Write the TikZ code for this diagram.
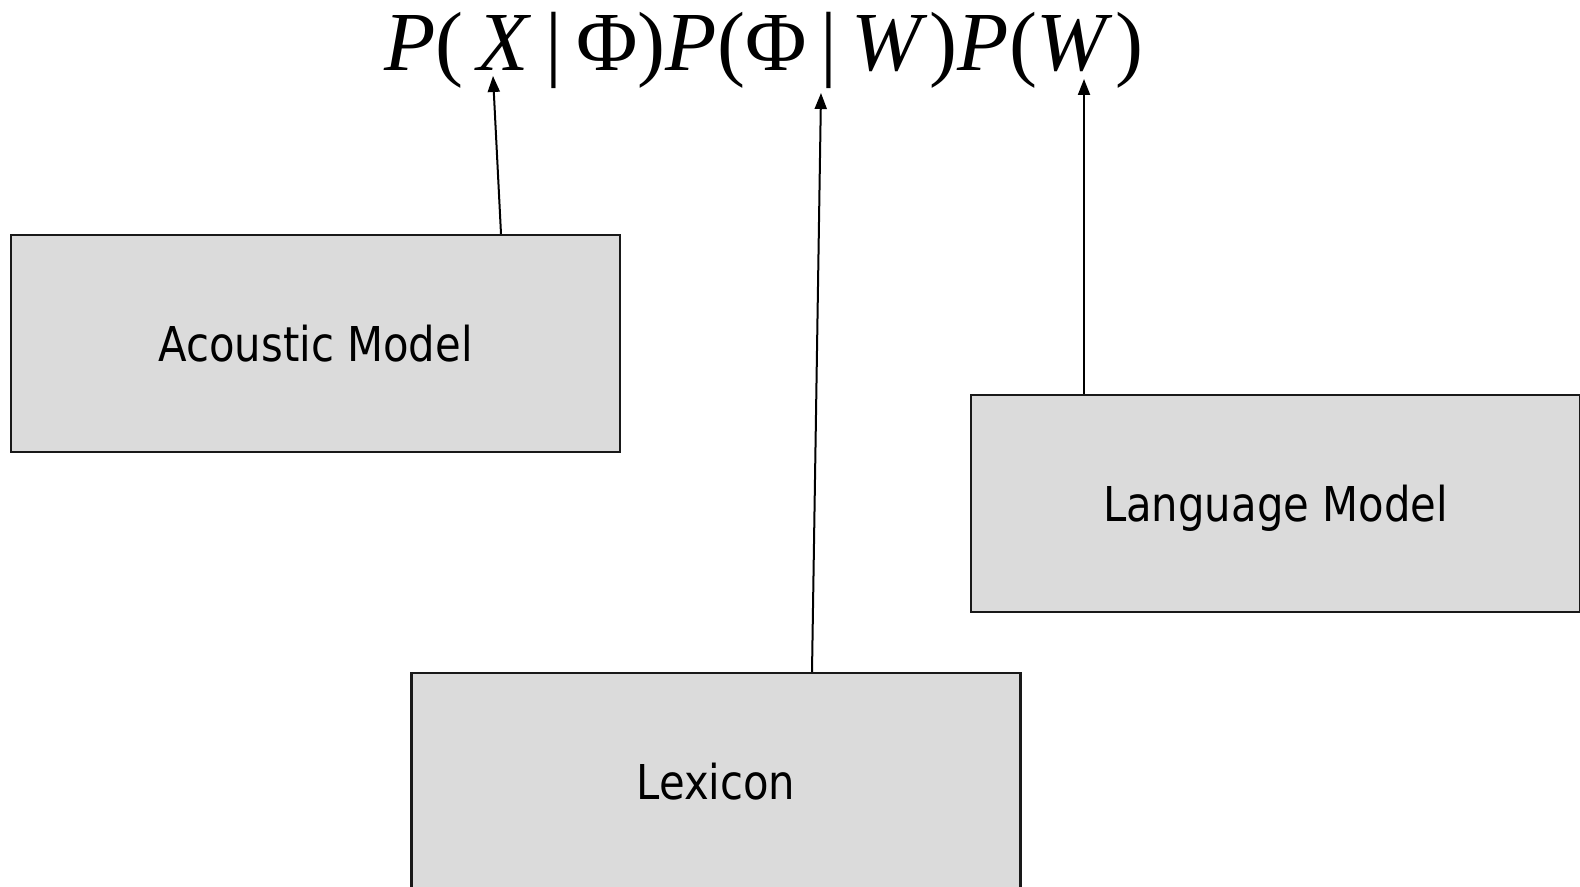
\documentclass[tikz,border=0pt]{standalone}
\usepackage{fontspec}
\setmainfont{DejaVu Sans}[FakeStretch=0.87]
\newfontfamily\eqfont{Liberation Serif}
\usepackage{tikz}
\usetikzlibrary{positioning,arrows.meta}

\begin{document}
\begin{tikzpicture}[x=0.5pt,y=-0.5pt,
  model/.style={draw=black!90,line width=1.1pt,fill=gray!28,minimum width=304.5pt,minimum height=108.5pt,
    inner sep=0pt,font=\fontsize{24}{28}\selectfont,text depth=0pt},
  arr/.style={-{Triangle[length=8pt,width=6pt]},line width=1pt}]
\useasboundingbox (0,0) rectangle (1580,887);
\node [anchor=base west,inner sep=0pt] (eq) at (384,71)
  {\eqfont\fontsize{42}{48}\selectfont \textit{P}(\,\textit{X}\,|\,Φ)\textit{P}(Φ\,|\,\textit{W}\kern1pt)\textit{P}(\textit{W}\kern1pt)};
\node [model] (acoustic) at (315.5,343.5) {Acoustic Model};
\node [model] (language) at (1275.5,503.5) {Language Model};
\node [model] (lexicon) at (716,781.5) {Lexicon};
\coordinate (tipX) at (493,76);
\coordinate (tipBar) at (821,93);
\coordinate (tipW) at (1084,79);
\draw [arr] ([xshift=92.75pt]acoustic.north) -- (tipX);
\draw [arr] ([xshift=48pt]lexicon.north) -- (tipBar);
\draw [arr] ([xshift=-95.75pt]language.north) -- (tipW);
\end{tikzpicture}
\end{document}
